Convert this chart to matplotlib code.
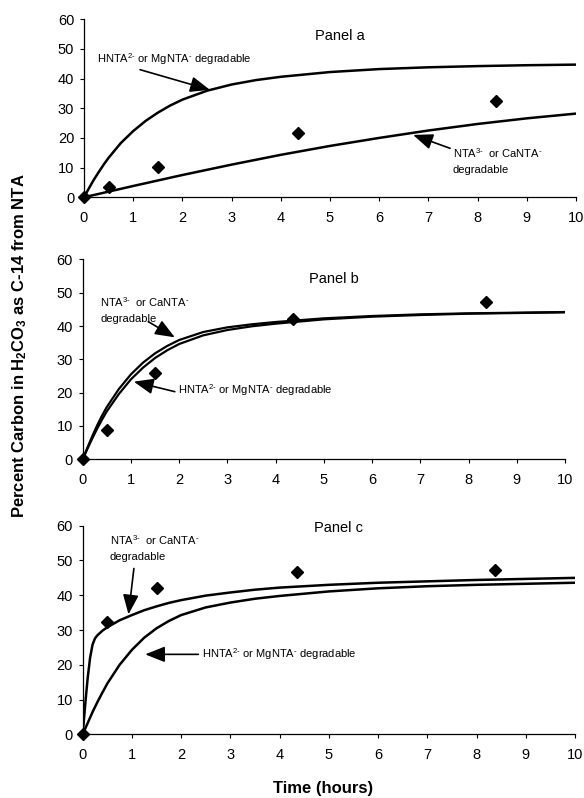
import matplotlib
matplotlib.use("Agg")
import matplotlib.pyplot as plt

plt.rcParams['font.family'] = ['Liberation Sans', 'DejaVu Sans']
plt.rcParams['mathtext.fontset'] = 'custom'
plt.rcParams['mathtext.rm'] = 'Liberation Sans'
plt.rcParams['mathtext.it'] = 'Liberation Sans:italic'
plt.rcParams['mathtext.bf'] = 'Liberation Sans:bold'

# measured points (same sampling times in all panels)
obs_t = [0, 0.5, 1.5, 4.35, 8.37]
obs_a = [0, 3.5, 10.3, 21.5, 32.3]
obs_b = [0, 8.8, 26.0, 42.0, 47.2]
obs_c = [0, 32.3, 42.2, 46.8, 47.3]

# model curves
t_std = [0, 0.1, 0.2, 0.3, 0.4, 0.5, 0.75, 1, 1.25, 1.5, 1.75, 2, 2.5, 3, 3.5, 4, 5, 6, 7, 8, 9, 10]
a_hnta = [0, 3.0, 5.9, 8.5, 11.0, 13.3, 18.3, 22.3, 25.7, 28.5, 30.9, 32.9, 35.9, 38.0, 39.5, 40.6,
          42.2, 43.2, 43.8, 44.2, 44.5, 44.7]
t_lin = [0, 1, 2, 3, 4, 5, 6, 7, 8, 9, 10]
a_nta = [0, 3.8, 7.5, 11.0, 14.3, 17.3, 20.0, 22.5, 24.7, 26.6, 28.2]

b_nta = [0, 3.6, 7.0, 10.2, 13.1, 15.7, 21.1, 25.5, 29.0, 31.8, 34.0, 35.8, 38.2, 39.6, 40.5, 41.2,
         42.3, 43.0, 43.5, 43.8, 44.0, 44.2]
b_hnta = [0, 3.2, 6.3, 9.2, 11.9, 14.4, 19.6, 24.0, 27.5, 30.4, 32.7, 34.6, 37.2, 38.8, 39.9, 40.7,
          42.0, 42.8, 43.3, 43.7, 43.9, 44.1]

t_fast = [0, 0.03, 0.06, 0.1, 0.15, 0.2, 0.25, 0.3, 0.4, 0.5, 0.75, 1, 1.25, 1.5, 1.75, 2, 2.5, 3,
          3.5, 4, 5, 6, 7, 8, 9, 10]
c_nta = [0, 5, 10, 16, 22, 25.8, 27.6, 28.5, 29.8, 30.8, 32.8, 34.3, 35.7, 36.8, 37.8, 38.6, 39.9,
         40.8, 41.6, 42.2, 43.0, 43.6, 44.0, 44.4, 44.7, 45.0]
c_hnta = [0, 3.2, 6.4, 9.3, 12.0, 14.6, 20.0, 24.3, 27.8, 30.5, 32.6, 34.3, 36.5, 37.9, 39.0, 39.8,
          41.1, 42.0, 42.6, 43.0, 43.3, 43.6]

lbl_h = "HNTA$^{2\\text{-}}$ or MgNTA$^{\\text{-}}$ degradable"
lbl_n = "NTA$^{3\\text{-}}$  or CaNTA$^{\\text{-}}$\ndegradable"

fig = plt.figure(figsize=(5.84, 7.98), dpi=100)
ax_a = fig.add_axes([0.1438, 0.7528, 0.8425, 0.2231])
ax_b = fig.add_axes([0.1416, 0.4244, 0.8259, 0.2506])
ax_c = fig.add_axes([0.1416, 0.0798, 0.8430, 0.2614])

arrow = dict(arrowstyle='-|>,head_length=0.8,head_width=0.32', color='black', lw=1.2,
             mutation_scale=15, shrinkA=0, shrinkB=0)


def style(ax, title, ty):
    ax.set_xlim(0, 10)
    ax.set_ylim(0, 60)
    ax.set_xticks(range(11))
    ax.set_yticks(range(0, 61, 10))
    for s in ['top', 'right']:
        ax.spines[s].set_visible(False)
    for s in ['left', 'bottom']:
        ax.spines[s].set_linewidth(0.9)
    ax.tick_params(labelsize=10.5, length=3, width=0.8, pad=4)
    ax.tick_params(axis='x', pad=7)
    ax.text(5.2, ty, title, ha='center', va='center', fontsize=10.5)


# panel a
ax_a.plot(t_std, a_hnta, color='black', lw=1.8)
ax_a.plot(t_lin, a_nta, color='black', lw=1.8)
ax_a.plot(obs_t, obs_a, 'D', color='black', ms=6, clip_on=False)
style(ax_a, "Panel a", 54.5)
ax_a.text(0.26, 46.7, lbl_h, fontsize=8, va='center')
ax_a.annotate('', xy=(2.56, 36.2), xytext=(1.14, 43.0), arrowprops=arrow)
ax_a.text(7.5, 12.3, lbl_n, fontsize=8, va='center', linespacing=1.6)
ax_a.annotate('', xy=(6.69, 21.0), xytext=(7.44, 16.5), arrowprops=arrow)

# panel b
ax_b.plot(t_std, b_nta, color='black', lw=1.6)
ax_b.plot(t_std, b_hnta, color='black', lw=1.6)
ax_b.plot(obs_t, obs_b, 'D', color='black', ms=6, clip_on=False)
style(ax_b, "Panel b", 54.1)
ax_b.text(0.36, 45.0, lbl_n, fontsize=8, va='center', linespacing=1.6)
ax_b.annotate('', xy=(1.91, 36.6), xytext=(1.36, 41.3), arrowprops=arrow)
ax_b.text(1.98, 20.8, lbl_h, fontsize=8, va='center')
ax_b.annotate('', xy=(1.06, 23.3), xytext=(1.91, 20.3), arrowprops=arrow)

# panel c
ax_c.plot(t_fast, c_nta, color='black', lw=1.8)
ax_c.plot(t_std, c_hnta, color='black', lw=1.8)
ax_c.plot(obs_t, obs_c, 'D', color='black', ms=6, clip_on=False)
style(ax_c, "Panel c", 59.3)
ax_c.text(0.55, 53.7, lbl_n, fontsize=8, va='center', linespacing=1.6)
ax_c.annotate('', xy=(0.93, 34.5), xytext=(1.04, 47.7), arrowprops=arrow)
ax_c.text(2.42, 23.0, lbl_h, fontsize=8, va='center')
ax_c.annotate('', xy=(1.27, 23.0), xytext=(2.35, 23.0), arrowprops=arrow)

fig.text(0.034, 1 - 346 / 798, "Percent Carbon in H$_\\mathbf{2}$CO$_\\mathbf{3}$ as C-14 from NTA",
         rotation=90, ha='center', va='center', fontsize=12, fontweight='bold')
fig.text(0.553, 1 - 789 / 798, "Time (hours)", ha='center', va='center',
         fontsize=12, fontweight='bold')

fig.savefig("out.png", dpi=100)
